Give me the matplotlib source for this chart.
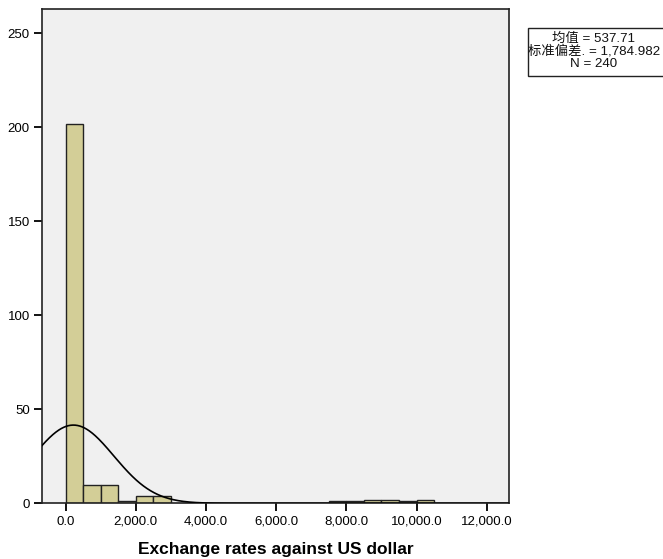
import numpy as np
import matplotlib
matplotlib.use('Agg')
import matplotlib.pyplot as plt
from matplotlib.patches import Rectangle
from matplotlib.ticker import FuncFormatter

plt.rcParams['font.family'] = ['Liberation Sans', 'Noto Sans CJK SC', 'DejaVu Sans']

# histogram: bin width 500 starting at 0
bin_width = 500
counts = [202, 10, 10, 1, 4, 4, 0, 0, 0, 0, 0, 0, 0, 0, 0, 1, 1, 2, 2, 1, 2]
n_total = 240
stats_lines = ['均值 = 537.71', '标准偏差. = 1,784.982', 'N = 240']
# normal curve as drawn in the picture
curve_mean = 220
curve_sd = 1150
xlabel = 'Exchange rates against US dollar'
xticks = [0, 2000, 4000, 6000, 8000, 10000, 12000]
yticks = [0, 50, 100, 150, 200, 250]

fig = plt.figure(figsize=(6.63, 5.59), dpi=100)
ax = fig.add_axes([0.0638, 0.0996, 0.7044, 0.8843])
ax.set_facecolor('#F0F0F0')

lefts = np.arange(len(counts)) * bin_width
for x0, c in zip(lefts, counts):
    if c > 0:
        ax.bar(x0, c, width=bin_width, align='edge', color='#D3CE97',
               edgecolor='#222222', linewidth=1.0, zorder=2)

xs = np.linspace(-700, 12700, 800)
ys = n_total * bin_width / (curve_sd * np.sqrt(2 * np.pi)) * np.exp(-(xs - curve_mean) ** 2 / (2 * curve_sd ** 2))
ax.plot(xs, ys, color='black', linewidth=1.2, zorder=3)

ax.set_xlim(-667, 12644)
ax.set_ylim(0, 263)
ax.set_xticks(xticks)
ax.set_yticks(yticks)
ax.xaxis.set_major_formatter(FuncFormatter(lambda v, p: f'{v:,.1f}'))
ax.tick_params(direction='out', length=6, width=1.3, labelsize=9.5, pad=3)
for s in ax.spines.values():
    s.set_linewidth(1.2)
    s.set_color('#222222')
ax.set_xlabel(xlabel, fontsize=12.5, fontweight='bold', labelpad=10)

# stats box
fig.patches.append(Rectangle((528 / 663, 1 - 76 / 559), 150 / 663, 48 / 559,
                             transform=fig.transFigure, facecolor='white',
                             edgecolor='#222222', linewidth=1.0))
for i, t in enumerate(stats_lines):
    fig.text(594 / 663, 1 - (39 + i * 12.5) / 559, t, ha='center', va='center',
             fontsize=9.6, color='#111111', linespacing=1.0)

fig.savefig('out.png', dpi=100)
